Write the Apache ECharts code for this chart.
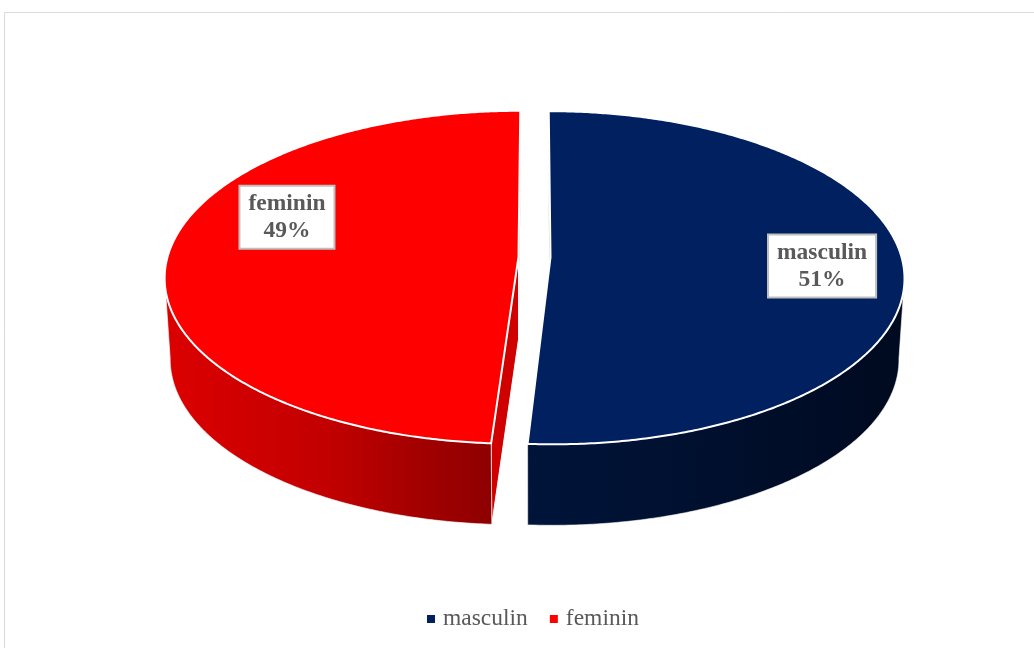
<!DOCTYPE html>
<html>
<head>
<meta charset="utf-8">
<script src="https://cdn.jsdelivr.net/npm/echarts@6/dist/echarts.min.js"></script>
<style>html,body{margin:0;padding:0;background:#fff;}#c{width:1034px;height:648px;}</style>
</head>
<body>
<div id="c"></div>
<script>
// ---- data ----
const categories = ['masculin', 'feminin'];
const values = [51, 49];
const colors = ['#002060', '#FF0000'];

// ---- layout / style (not data) ----
const CX = 534.5, CY = 257, RX = 351, RY = 164, F = 0.123, H = 81, KB = 0.985, E = 0.0456;
const wallStops = [
  [[0, '#00143a'], [1, '#000a20']],
  [[0, '#dc0000'], [0.5, '#c20000'], [0.75, '#a60000'], [1, '#8e0000']]
];
const cutColors = ['#000a20', '#d00000'];
const labelPos = [[94, 0.77], [290, 0.725]];

const total = values.reduce((a, b) => a + b, 0);

function proj(u, v, bottom) {
  const s = 1 / (1 - F * v);
  let dx = RX * u * s;
  if (bottom) dx *= KB;
  return [CX + dx, CY + RY * v * s + (bottom ? H : 0)];
}
function rimPt(a, e, bottom, r) {
  r = r == null ? 1 : r;
  const t = a * Math.PI / 180;
  return proj(r * Math.sin(t) + e[0], -r * Math.cos(t) + e[1], bottom);
}

function renderSlice(params, api) {
  const i = params.seriesIndex;
  const val = api.value(0);
  let start = 0;
  for (let k = 0; k < i; k++) start += values[k];
  const a0 = start / total * 360;
  const a1 = a0 + val / total * 360;
  const mid = (a0 + a1) / 2;
  const mr = mid * Math.PI / 180;
  const e = [E * Math.sin(mr), -E * Math.cos(mr)];
  const vTop = proj(e[0], e[1], false);
  const vBot = proj(e[0], e[1], true);
  const children = [];

  // radial cut faces
  [a0, a1].forEach(a => {
    children.push({
      type: 'polygon',
      shape: { points: [vTop, rimPt(a, e, false), rimPt(a, e, true), vBot] },
      style: { fill: cutColors[i], stroke: '#ffffff', lineWidth: 1 }
    });
  });

  // outer wall (front visible part)
  const aR = Math.acos(-F) * 180 / Math.PI;
  const aL = 360 - aR;
  const w0 = Math.max(a0, aR), w1 = Math.min(a1, aL);
  if (w1 > w0) {
    const topPts = [], botPts = [];
    for (let a = w0; a <= w1 + 1e-9; a += 0.5) {
      topPts.push(rimPt(a, e, false));
      botPts.push(rimPt(a, e, true));
    }
    topPts.push(rimPt(w1, e, false));
    botPts.push(rimPt(w1, e, true));
    const pts = topPts.concat(botPts.reverse());
    children.push({
      type: 'polygon',
      shape: { points: pts },
      style: {
        fill: new echarts.graphic.LinearGradient(0, 0, 1, 0,
          wallStops[i].map(s => ({ offset: s[0], color: s[1] }))),
        stroke: '#ffffff', lineWidth: 0.6
      }
    });
  }

  // top face
  const top = [vTop];
  for (let a = a0; a <= a1 + 1e-9; a += 0.5) top.push(rimPt(a, e, false));
  top.push(rimPt(a1, e, false));
  children.push({
    type: 'polygon',
    shape: { points: top },
    style: { fill: colors[i], stroke: '#ffffff', lineWidth: 2 }
  });

  // label
  const lp = rimPt(labelPos[i][0], e, false, labelPos[i][1]);
  children.push({
    type: 'text',
    x: lp[0], y: lp[1],
    z2: 100,
    style: {
      text: categories[i] + '\n' + Math.round(val / total * 100) + '%',
      fontFamily: '"Liberation Serif", "Times New Roman", serif',
      fontWeight: 'bold',
      fontSize: 23.5,
      lineHeight: 27,
      fill: '#595959',
      align: 'center',
      verticalAlign: 'middle',
      backgroundColor: '#ffffff',
      borderColor: '#bfbfbf',
      borderWidth: 2,
      padding: [4, 8, 3, 8]
    }
  });

  return { type: 'group', children };
}

const chart = echarts.init(document.getElementById('c'), null, { renderer: 'canvas' });
chart.setOption({
  animation: false,
  backgroundColor: '#ffffff',
  graphic: [{
    type: 'rect',
    shape: { x: 4.5, y: 12.5, width: 1100, height: 700 },
    style: { fill: 'none', stroke: '#d9d9d9', lineWidth: 1 },
    silent: true
  }],
  legend: {
    data: categories,
    left: 422,
    top: 602,
    icon: 'rect',
    itemWidth: 8,
    itemHeight: 8,
    itemGap: 22,
    textStyle: {
      fontFamily: '"Liberation Serif", "Times New Roman", serif',
      fontSize: 23.5,
      color: '#595959',
      padding: [0, 0, 0, 3]
    },
    selectedMode: false
  },
  series: categories.map((name, i) => ({
    type: 'custom',
    name: name,
    coordinateSystem: 'none',
    itemStyle: { color: colors[i] },
    renderItem: renderSlice,
    data: [values[i]]
  }))
});
</script>
</body>
</html>
